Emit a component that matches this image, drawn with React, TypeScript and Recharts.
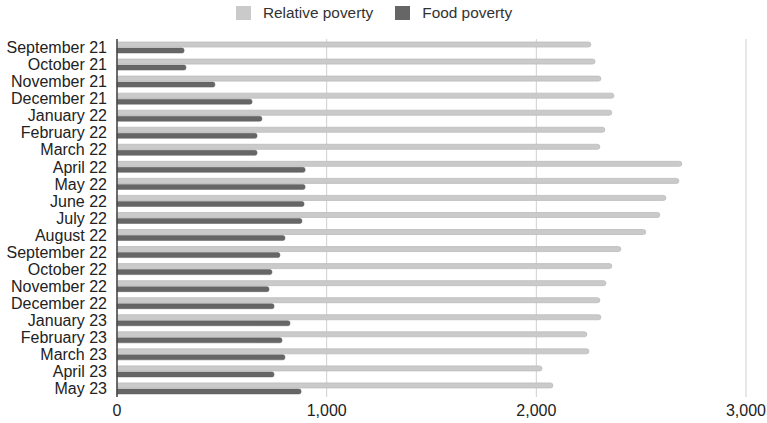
import { BarChart, Bar, XAxis, YAxis, CartesianGrid, Legend } from "recharts";

// months shown on the category axis
const months = [
  "September 21",
  "October 21",
  "November 21",
  "December 21",
  "January 22",
  "February 22",
  "March 22",
  "April 22",
  "May 22",
  "June 22",
  "July 22",
  "August 22",
  "September 22",
  "October 22",
  "November 22",
  "December 22",
  "January 23",
  "February 23",
  "March 23",
  "April 23",
  "May 23",
];

const relativePoverty = [
  2260, 2280, 2308, 2370, 2360, 2327, 2303, 2694, 2680, 2618, 2589, 2522, 2403,
  2360, 2332, 2303, 2308, 2241, 2251, 2027, 2079,
];

const foodPoverty = [
  320, 329, 467, 644, 691, 668, 668, 897, 897, 892, 882, 801, 777, 739, 725, 749,
  825, 787, 801, 749, 878,
];

const xTicks = [0, 1000, 2000, 3000];

const FONT = "'Liberation Sans', Arial, sans-serif";
const RELATIVE_COLOR = "#cacaca";
const FOOD_COLOR = "#666666";

const chartData = months.map((month, i) => ({
  month,
  relative: relativePoverty[i],
  food: foodPoverty[i],
}));

function LegendContent() {
  const items = [
    { label: "Relative poverty", color: RELATIVE_COLOR },
    { label: "Food poverty", color: FOOD_COLOR },
  ];
  return (
    <div
      style={{
        height: 26,
        display: "flex",
        justifyContent: "center",
        alignItems: "center",
        fontFamily: FONT,
        fontSize: 15.4,
        color: "#333",
        paddingLeft: 2,
      }}
    >
      {items.map((item, i) => (
        <div
          key={item.label}
          style={{
            display: "flex",
            alignItems: "center",
            marginLeft: i === 0 ? 0 : 22,
          }}
        >
          <span
            style={{
              display: "inline-block",
              width: 15,
              height: 14,
              background: item.color,
              marginRight: 12,
            }}
          />
          {item.label}
        </div>
      ))}
    </div>
  );
}

export default function App() {
  return (
    <div style={{ position: "absolute", left: 0, top: 0, background: "#fff" }}>
      <BarChart
        layout="vertical"
        width={767}
        height={423}
        data={chartData}
        margin={{ top: 13, right: 21, bottom: 0, left: 0 }}
        barSize={5}
        barGap={1}
      >
        <CartesianGrid horizontal={false} stroke="#cfcfcf" />
        <XAxis
          type="number"
          domain={[0, 3000]}
          ticks={xTicks}
          tickFormatter={(v: number) => v.toLocaleString("en-US")}
          height={26}
          axisLine={false}
          tickLine={false}
          tick={{ fontSize: 16, fill: "#222", fontFamily: FONT }}
        />
        <YAxis
          type="category"
          dataKey="month"
          width={117}
          interval={0}
          tickLine={false}
          axisLine={{ stroke: "#444", strokeWidth: 1.5 }}
          tick={{ fontSize: 16, fill: "#222", fontFamily: FONT }}
          tickMargin={4}
        />
        <Legend
          verticalAlign="top"
          content={() => <LegendContent />}
          wrapperStyle={{ top: 0 }}
        />
        <Bar
          dataKey="relative"
          name="Relative poverty"
          fill={RELATIVE_COLOR}
          stroke="#bcbcbc"
          strokeWidth={0.8}
          radius={[0, 2.5, 2.5, 0]}
          isAnimationActive={false}
        />
        <Bar
          dataKey="food"
          name="Food poverty"
          fill={FOOD_COLOR}
          stroke="#5e5e5e"
          strokeWidth={0.5}
          radius={[0, 2, 2, 0]}
          isAnimationActive={false}
        />
      </BarChart>
    </div>
  );
}
